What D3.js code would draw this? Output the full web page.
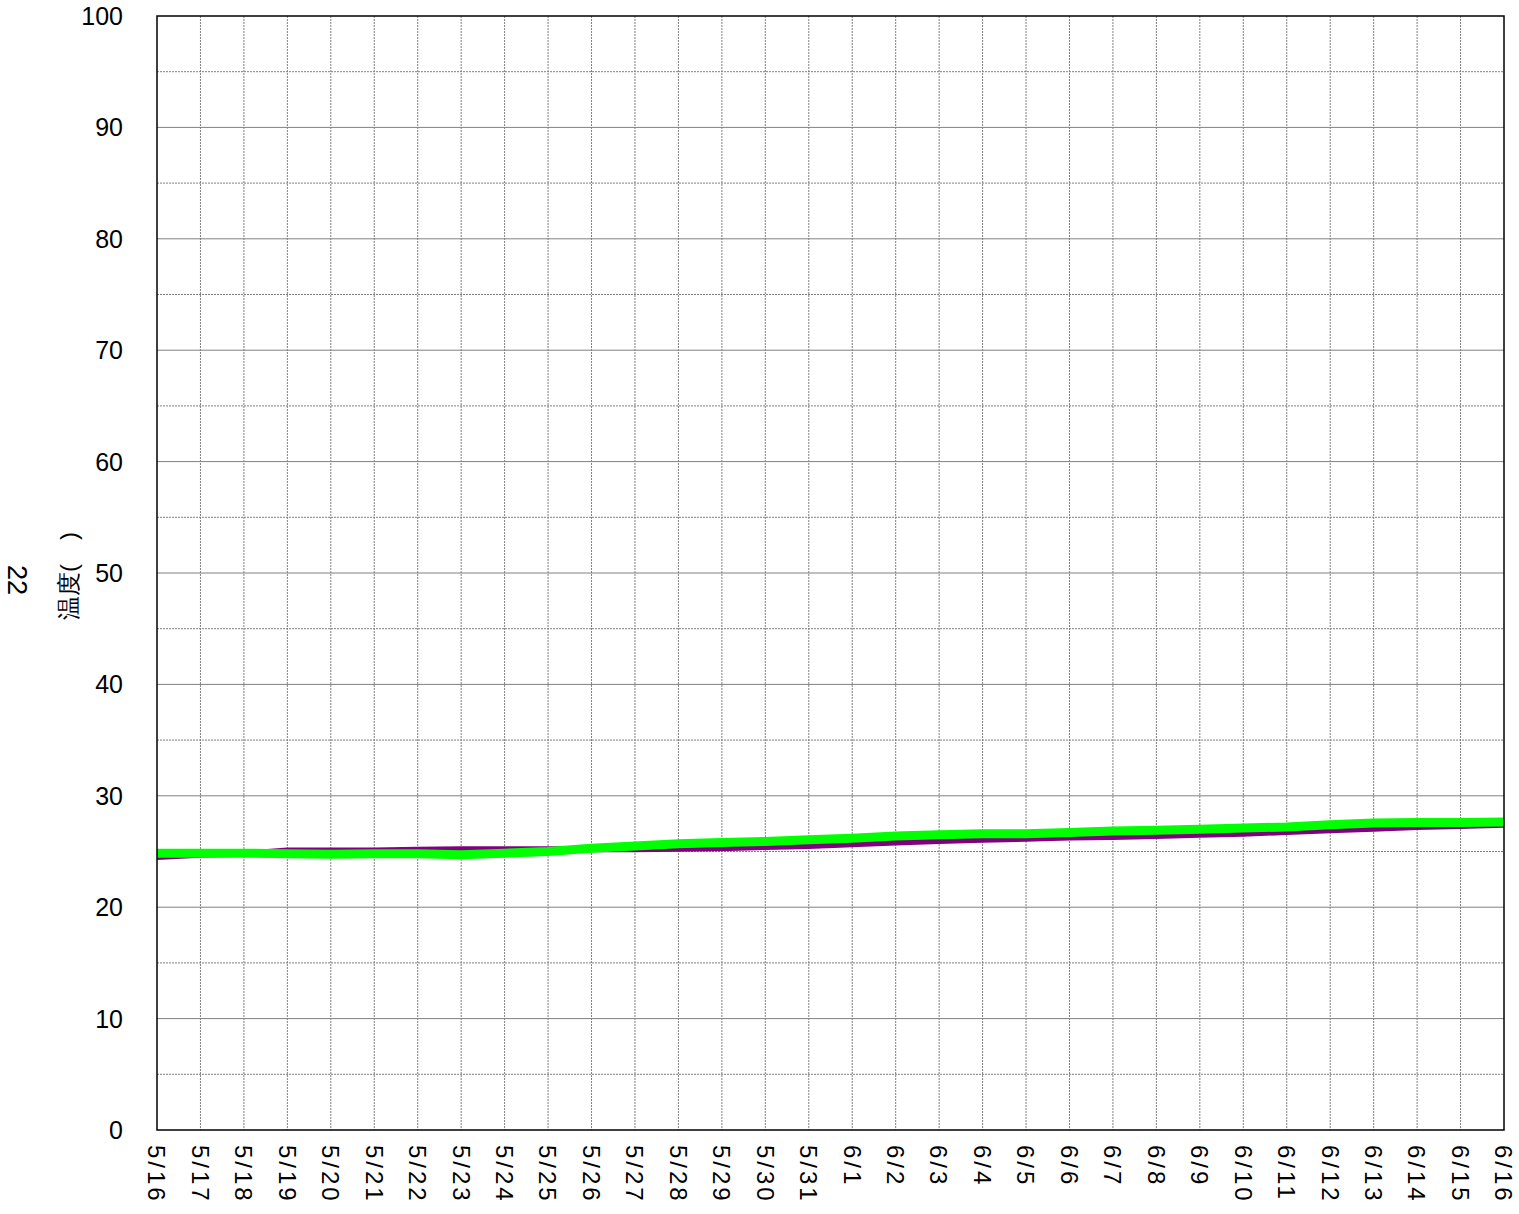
<!DOCTYPE html>
<html><head><meta charset="utf-8">
<script src="https://cdn.jsdelivr.net/npm/d3@7"></script>
<style>body{margin:0;background:#fff;} text{font-family:"Liberation Sans",Arial,sans-serif;}</style>
</head><body>
<svg id="c" width="1519" height="1214"></svg>
<script>
const dayLabels = ["5/16","5/17","5/18","5/19","5/20","5/21","5/22","5/23","5/24","5/25","5/26","5/27","5/28","5/29","5/30","5/31","6/1","6/2","6/3","6/4","6/5","6/6","6/7","6/8","6/9","6/10","6/11","6/12","6/13","6/14","6/15","6/16"];
const yTicks = [0,10,20,30,40,50,60,70,80,90,100];
const purpleSeries = [24.5,24.7,24.8,25.1,25.1,25.1,25.15,25.2,25.2,25.2,25.2,25.2,25.25,25.3,25.4,25.5,25.65,25.8,25.95,26.05,26.15,26.25,26.3,26.4,26.5,26.6,26.75,26.9,27.05,27.2,27.3,27.4];
const greenSeries = [24.85,24.85,24.85,24.8,24.75,24.8,24.8,24.7,24.85,25.0,25.3,25.5,25.7,25.8,25.9,26.05,26.2,26.4,26.5,26.6,26.6,26.7,26.85,26.9,27.0,27.1,27.2,27.4,27.55,27.6,27.6,27.65];

const svg = d3.select("#c");
const L=157, T=16, R=1504, B=1130;
const x = d3.scaleLinear().domain([0, dayLabels.length-1]).range([L,R]);
const y = d3.scaleLinear().domain([0,100]).range([B,T]);

// minor horizontal gridlines (dashed)
svg.append("g").selectAll("line").data(d3.range(5,100,10)).join("line")
  .attr("x1",L).attr("x2",R).attr("y1",d=>y(d)).attr("y2",d=>y(d))
  .attr("stroke","#808080").attr("stroke-width",1).attr("stroke-dasharray","2,1");
// vertical gridlines (dashed)
svg.append("g").selectAll("line").data(d3.range(1,dayLabels.length-1)).join("line")
  .attr("x1",d=>x(d)).attr("x2",d=>x(d)).attr("y1",T).attr("y2",B)
  .attr("stroke","#808080").attr("stroke-width",1).attr("stroke-dasharray","2,1");
// major horizontal gridlines
svg.append("g").selectAll("line").data(yTicks.slice(1,-1)).join("line")
  .attr("x1",L).attr("x2",R).attr("y1",d=>y(d)).attr("y2",d=>y(d))
  .attr("stroke","#808080").attr("stroke-width",1);

// lines
const line = d3.line().x((d,i)=>x(i)).y(d=>y(d));
svg.append("path").datum(purpleSeries).attr("d",line).attr("fill","none")
  .attr("stroke","#800080").attr("stroke-width",6).attr("stroke-linejoin","round");
svg.append("path").datum(greenSeries).attr("d",line).attr("fill","none")
  .attr("stroke","#00FF00").attr("stroke-width",9).attr("stroke-linejoin","round");

// border
svg.append("rect").attr("x",L).attr("y",T).attr("width",R-L).attr("height",B-T)
  .attr("fill","none").attr("stroke","#000").attr("stroke-width",1.5);

// y tick labels
svg.append("g").selectAll("text").data(yTicks).join("text")
  .attr("x",123).attr("y",d=>y(d)).attr("dy","0.36em").attr("text-anchor","end")
  .attr("font-size",25).attr("fill","#000").text(d=>d);

// x tick labels rotated
svg.append("g").selectAll("text").data(dayLabels).join("text")
  .attr("transform",(d,i)=>`translate(${x(i)},1145) rotate(90)`)
  .attr("dy","0.36em").attr("text-anchor","start")
  .attr("font-size",24).attr("letter-spacing","3px").attr("fill","#000").text(d=>d);

// y axis title
svg.append("text").attr("transform","translate(68,576) rotate(-90)")
  .attr("text-anchor","middle").attr("dy","0.36em").attr("font-size",24)
  .attr("font-family","'Noto Sans CJK JP',sans-serif").text("温度(　)");
svg.append("text").attr("transform","translate(18,580) rotate(90)")
  .attr("text-anchor","middle").attr("dy","0.36em").attr("font-size",27).text("22");
</script>
</body></html>
